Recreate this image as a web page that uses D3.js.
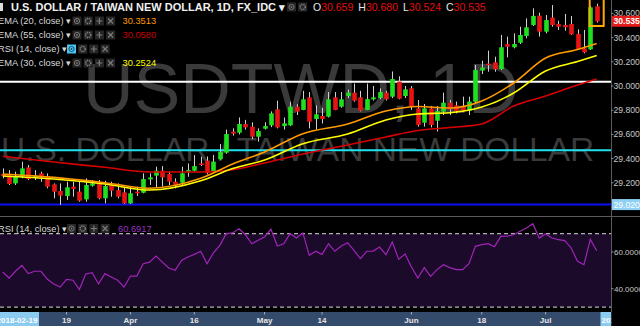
<!DOCTYPE html>
<html>
<head>
<meta charset="utf-8">
<script src="https://cdn.jsdelivr.net/npm/d3@7"></script>
<style>
  body { margin: 0; background: #000; overflow: hidden; }
  svg { display: block; font-family: "Liberation Sans", Arial, sans-serif; }
</style>
</head>
<body>
<div class="chart"></div>
<script>
//daily candles USDTWD, 2018-03-05 .. 2018-07-12
var opens = [29.273, 29.264, 29.195, 29.250, 29.327, 29.245, 29.278, 29.256, 29.187, 29.132,
    29.091, 29.168, 29.127, 29.063, 29.176, 29.201, 29.072, 29.182, 29.140, 29.121,
    29.030, 29.127, 29.118, 29.228, 29.259, 29.300, 29.273, 29.209, 29.201, 29.300,
    29.300, 29.360, 29.383, 29.290, 29.394, 29.449, 29.623, 29.614, 29.686, 29.664,
    29.581, 29.647, 29.675, 29.807, 29.669, 29.675, 29.829, 29.802, 29.906, 29.727,
    29.752, 29.747, 29.906, 29.829, 29.917, 29.945, 29.906, 29.802, 29.890, 29.901,
    29.945, 29.912, 30.036, 29.917, 29.981, 29.815, 29.697, 29.815, 29.713, 29.788,
    29.862, 29.840, 29.835, 29.796, 29.871, 30.127, 30.185, 30.196, 30.140, 30.347,
    30.320, 30.358, 30.413, 30.504, 30.581, 30.449, 30.565, 30.512, 30.504, 30.512,
    30.430, 30.311, 30.303, 30.659];
var highs = [29.319, 29.305, 29.292, 29.374, 29.347, 29.305, 29.292, 29.278, 29.195, 29.195,
    29.209, 29.209, 29.209, 29.237, 29.223, 29.223, 29.217, 29.209, 29.195, 29.168,
    29.168, 29.168, 29.278, 29.278, 29.333, 29.338, 29.292, 29.237, 29.333, 29.360,
    29.429, 29.416, 29.418, 29.430, 29.520, 29.640, 29.650, 29.740, 29.720, 29.700,
    29.650, 29.700, 29.790, 29.879, 29.740, 29.870, 29.850, 29.960, 29.950, 29.840,
    29.820, 29.950, 29.950, 29.950, 29.970, 30.020, 29.960, 30.020, 30.000, 29.980,
    29.960, 30.120, 30.080, 30.000, 30.000, 29.884, 29.851, 29.835, 29.835, 29.945,
    29.884, 29.871, 29.912, 29.912, 30.174, 30.209, 30.292, 30.242, 30.422, 30.408,
    30.435, 30.490, 30.559, 30.642, 30.606, 30.587, 30.669, 30.540, 30.595, 30.579,
    30.468, 30.463, 30.661, 30.680];
var lows = [29.237, 29.182, 29.182, 29.237, 29.223, 29.223, 29.209, 29.154, 29.072, 29.017,
    29.058, 29.085, 29.044, 29.044, 29.168, 29.063, 29.030, 29.085, 29.072, 29.025,
    29.025, 29.091, 29.113, 29.182, 29.160, 29.168, 29.182, 29.154, 29.182, 29.250,
    29.292, 29.338, 29.270, 29.280, 29.390, 29.440, 29.590, 29.600, 29.640, 29.560,
    29.540, 29.640, 29.660, 29.650, 29.640, 29.670, 29.760, 29.800, 29.650, 29.640,
    29.690, 29.740, 29.800, 29.820, 29.900, 29.870, 29.790, 29.800, 29.880, 29.890,
    29.880, 29.900, 29.890, 29.900, 29.802, 29.664, 29.664, 29.658, 29.623, 29.760,
    29.760, 29.774, 29.788, 29.760, 29.857, 30.099, 30.118, 30.118, 30.132, 30.237,
    30.311, 30.347, 30.394, 30.496, 30.408, 30.435, 30.490, 30.463, 30.457, 30.422,
    30.298, 30.270, 30.298, 30.524];
var closes = [29.256, 29.190, 29.250, 29.319, 29.231, 29.259, 29.250, 29.168, 29.127, 29.094,
    29.163, 29.149, 29.052, 29.182, 29.195, 29.072, 29.174, 29.135, 29.085, 29.030,
    29.113, 29.113, 29.231, 29.245, 29.300, 29.245, 29.209, 29.182, 29.278, 29.305,
    29.338, 29.347, 29.280, 29.375, 29.457, 29.603, 29.606, 29.686, 29.658, 29.581,
    29.628, 29.669, 29.774, 29.658, 29.691, 29.829, 29.788, 29.890, 29.705, 29.766,
    29.727, 29.890, 29.802, 29.890, 29.945, 29.879, 29.796, 29.892, 29.906, 29.950,
    29.890, 30.058, 29.895, 29.972, 29.829, 29.678, 29.815, 29.678, 29.793, 29.862,
    29.807, 29.793, 29.796, 29.871, 30.132, 30.152, 30.174, 30.138, 30.320, 30.325,
    30.347, 30.422, 30.485, 30.579, 30.449, 30.545, 30.504, 30.490, 30.485, 30.427,
    30.306, 30.278, 30.650, 30.535];

//RSI(14) per candle
var rsiVals = [49.1, 45.8, 49.5, 52.7, 48.2, 49.5, 49.5, 45.1, 42.6, 40.9,
    45.1, 44.6, 39.6, 48.0, 48.7, 42.6, 48.2, 46.4, 44.6, 40.9,
    46.9, 46.9, 53.6, 54.5, 57.8, 54.5, 51.3, 50.0, 55.4, 57.3,
    58.7, 60.4, 53.6, 59.6, 63.6, 70.0, 70.4, 72.7, 69.4, 64.5,
    66.4, 68.2, 72.4, 63.3, 64.5, 70.0, 67.6, 70.4, 58.2, 60.4,
    58.7, 64.5, 60.4, 63.3, 65.1, 60.9, 56.4, 60.4, 60.5, 62.7,
    58.5, 65.4, 56.0, 58.9, 51.8, 45.8, 51.5, 46.7, 50.4, 53.1,
    51.5, 50.4, 50.4, 53.6, 63.1, 64.0, 64.5, 62.9, 68.5, 68.7,
    69.4, 71.3, 73.1, 75.4, 67.6, 69.8, 67.6, 66.7, 66.2, 62.2,
    54.9, 53.1, 66.9, 60.6917];

//moving averages, read at some candles
var emaIdx = [0, 8, 16, 23, 31, 36, 41, 47, 54, 60, 65, 70, 75, 80, 85, 90, 93];
var ema20 = [29.273, 29.245, 29.201, 29.155, 29.237, 29.355, 29.455, 29.606, 29.686, 29.793, 29.831, 29.818, 29.876, 30.025, 30.231, 30.302, 30.3513];
var ema30 = [29.256, 29.231, 29.190, 29.140, 29.217, 29.318, 29.388, 29.523, 29.603, 29.719, 29.769, 29.779, 29.826, 29.942, 30.124, 30.202, 30.2524];
var ema55 = [29.419, 29.372, 29.328, 29.289, 29.289, 29.308, 29.364, 29.438, 29.512, 29.579, 29.632, 29.657, 29.686, 29.835, 29.917, 30.008, 30.0580];

var dateTickIdx = [10, 20, 30, 41, 50, 64, 75, 85];
var dateTickLabels = ["19", "Apr", "16", "May", "14", "Jun", "18", "Jul"];
var priceTicks = [29.0, 29.2, 29.4, 29.6, 29.8, 30.0, 30.2, 30.4, 30.6];
var rsiTicks = [40, 60];
var rsiBands = [30, 70];
var hLevels = [30.035, 29.47, 29.02];
var hColors = ["#ffffff", "#1fe3ee", "#0a10f5"];

var width = 640, height = 326;
var green = "#1ee01e", red = "#e81414";

var svg = d3.select(".chart").append("svg")
    .attr("width", width)
    .attr("height", height)
    .style("background-color", "#000");

var x = d3.scaleLinear().domain([0, 93]).range([2.7, 596.7]);
var y = d3.scaleLinear().domain([29.0, 30.6]).range([207, 13.4]);
var yR = d3.scaleLinear().domain([40, 60]).range([288.7, 252]);

svg.append("clipPath").attr("id", "mainClip")
    .append("rect").attr("x", 0).attr("y", 0).attr("width", 611).attr("height", 216);
svg.append("clipPath").attr("id", "rsiClip")
    .append("rect").attr("x", 0).attr("y", 217).attr("width", 611).attr("height", 95);
svg.append("clipPath").attr("id", "axisClip")
    .append("rect").attr("x", 612).attr("y", 0).attr("width", 28).attr("height", 216);

var main = svg.append("g").attr("clip-path", "url(#mainClip)");

//watermark
main.append("text")
    .attr("x", 83).attr("y", 113)
    .attr("font-size", 70)
    .style("fill", "#3a3a3a")
    .text("USDTWD, 1D");
main.append("text")
    .attr("x", 1).attr("y", 161)
    .attr("font-size", 33.5)
    .style("fill", "#3a3a3a")
    .text("U.S. DOLLAR / TAIWAN NEW DOLLAR");

//horizontal levels
main.selectAll(".level").data(hLevels).enter().append("line")
    .attr("x1", 0).attr("x2", 611)
    .attr("y1", d => y(d)).attr("y2", d => y(d))
    .attr("stroke", (d, k) => hColors[k])
    .attr("stroke-width", 2);

//candles
var idx = d3.range(opens.length);
main.selectAll(".wick").data(idx).enter().append("line")
    .attr("x1", i => Math.round(x(i)) + 0.5).attr("x2", i => Math.round(x(i)) + 0.5)
    .attr("y1", i => y(highs[i])).attr("y2", i => y(lows[i]))
    .attr("stroke", "#d0d0d0")
    .attr("stroke-width", 1);
main.selectAll(".body").data(idx).enter().append("rect")
    .attr("x", i => Math.round(x(i)) - 1.8)
    .attr("width", 4.6)
    .attr("y", i => y(Math.max(opens[i], closes[i])))
    .attr("height", i => Math.max(1.5, Math.abs(y(opens[i]) - y(closes[i]))))
    .attr("fill", i => closes[i] >= opens[i] ? green : red);

//ema lines
var emaLine = d3.line()
    .x((d, k) => x(emaIdx[k]))
    .y(d => y(d))
    .curve(d3.curveMonotoneX);
[[ema55, "#d80000"], [ema30, "#ffff00"], [ema20, "#ff9a00"]].forEach(function(e) {
    main.append("path")
        .datum(e[0])
        .attr("fill", "none")
        .attr("stroke", e[1])
        .attr("stroke-width", 1.6)
        .attr("d", emaLine);
});

//box round the last candle
main.append("rect")
    .attr("x", x(93) - 7).attr("y", -2)
    .attr("width", 14).attr("height", 28)
    .attr("fill", "none")
    .attr("stroke", "#ffa800")
    .attr("stroke-width", 2);

//RSI pane
var rsiG = svg.append("g").attr("clip-path", "url(#rsiClip)");
rsiG.append("rect")
    .attr("x", 0).attr("width", 611)
    .attr("y", yR(rsiBands[1])).attr("height", yR(rsiBands[0]) - yR(rsiBands[1]))
    .attr("fill", "#1c0a2b");
rsiG.selectAll(".band").data(rsiBands).enter().append("line")
    .attr("x1", 0).attr("x2", 611)
    .attr("y1", d => yR(d)).attr("y2", d => yR(d))
    .attr("stroke", "#b0b0b0")
    .attr("stroke-dasharray", "4,3")
    .attr("stroke-width", 1.2);
rsiG.append("path")
    .datum(rsiVals)
    .attr("fill", "none")
    .attr("stroke", "#a024b8")
    .attr("stroke-width", 1.2)
    .attr("d", d3.line().x((d, i) => x(i)).y(d => yR(d)));

//pane borders
svg.append("line").attr("x1", 0).attr("x2", 640).attr("y1", 216.5).attr("y2", 216.5)
    .attr("stroke", "#5a5a5a");
svg.append("line").attr("x1", 611.5).attr("x2", 611.5).attr("y1", 0).attr("y2", 312)
    .attr("stroke", "#5a5a5a");

//price axis
var axisG = svg.append("g").attr("font-size", 8.6).style("fill", "#c8c8c8");
axisG.append("g").attr("clip-path", "url(#axisClip)")
    .selectAll(".pt").data(priceTicks).enter().append("text")
    .attr("x", 613.5).attr("y", d => y(d) + 3)
    .text(d => d3.format(".3f")(d));
axisG.selectAll(".ptk").data(priceTicks).enter().append("line")
    .attr("x1", 611).attr("x2", 613.5).attr("y1", d => y(d)).attr("y2", d => y(d))
    .attr("stroke", "#8a8a8a");
axisG.selectAll(".rt").data(rsiTicks).enter().append("text")
    .attr("x", 614).attr("y", d => yR(d) + 3)
    .attr("font-size", 8)
    .text(d => d3.format(".4f")(d));
axisG.selectAll(".rtk").data(rsiTicks).enter().append("line")
    .attr("x1", 611).attr("x2", 613.5).attr("y1", d => yR(d)).attr("y2", d => yR(d))
    .attr("stroke", "#8a8a8a");

//current price and blue level labels
var lastClose = closes[closes.length - 1];
svg.append("rect").attr("x", 612).attr("y", y(lastClose) - 5.5).attr("width", 28).attr("height", 11)
    .attr("fill", "#e51c1c");
svg.append("text").attr("x", 613.5).attr("y", y(lastClose) + 3.2)
    .attr("font-size", 8.6).attr("font-weight", "bold").style("fill", "#fff")
    .text(d3.format(".3f")(lastClose));
svg.append("rect").attr("x", 612).attr("y", y(hLevels[2]) - 5.5).attr("width", 28).attr("height", 11)
    .attr("fill", "#8fd0f5");
svg.append("text").attr("x", 613.5).attr("y", y(hLevels[2]) + 3.2)
    .attr("font-size", 8.6).style("fill", "#fff")
    .text(d3.format(".3f")(hLevels[2]));

//date axis
svg.append("rect").attr("x", 0).attr("y", 312).attr("width", 611).attr("height", 14)
    .attr("fill", "#354b6b");
svg.append("rect").attr("x", 0).attr("y", 312).attr("width", 39).attr("height", 14)
    .attr("fill", "#8ccbf0");
svg.append("rect").attr("x", 600.5).attr("y", 312).attr("width", 11).attr("height", 14)
    .attr("fill", "#8ccbf0");
svg.append("text").attr("x", 37.5).attr("y", 322.5).attr("text-anchor", "end")
    .attr("font-size", 8).attr("font-weight", "bold").style("fill", "#fff")
    .text("2018-02-19");
svg.append("text").attr("x", 601.5).attr("y", 322.5)
    .attr("font-size", 8).attr("font-weight", "bold").style("fill", "#fff")
    .text("2018-07-12");
svg.append("rect").attr("x", 611.5).attr("y", 312).attr("width", 29).attr("height", 14)
    .attr("fill", "#000");
svg.selectAll(".dt").data(dateTickIdx).enter().append("text")
    .attr("x", i => x(i)).attr("y", 322.5)
    .attr("text-anchor", "middle")
    .attr("font-size", 8).attr("font-weight", "bold")
    .style("fill", "#e6e6e6")
    .text((d, k) => dateTickLabels[k]);
svg.selectAll(".dtk").data(dateTickIdx).enter().append("line")
    .attr("x1", i => x(i)).attr("x2", i => x(i)).attr("y1", 312).attr("y2", 314.5)
    .attr("stroke", "#9fb0c4");

//small legend buttons
function drawButtons(x0, y0, n, hi) {
    for (var k = 0; k < n; k++) {
        var bx = x0 + k * 11.2;
        var on = hi && k == 0;
        var ic = on ? "#15506e" : "#7a7a7a";
        svg.append("rect").attr("x", bx).attr("y", y0).attr("width", 9).attr("height", 9)
            .attr("fill", on ? "#4cc4f2" : "#262626");
        var cx = bx + 4.5, cy = y0 + 4.5;
        if (k == 0) {
            svg.append("circle").attr("cx", cx).attr("cy", cy).attr("r", 2.6)
                .attr("fill", "none").attr("stroke", ic).attr("stroke-width", 1);
            svg.append("circle").attr("cx", cx).attr("cy", cy).attr("r", 0.9).attr("fill", ic);
        } else if (k == 1) {
            svg.append("circle").attr("cx", cx).attr("cy", cy).attr("r", 2.6)
                .attr("fill", "none").attr("stroke", ic).attr("stroke-width", 1.6)
                .attr("stroke-dasharray", "1.3,0.8");
        } else if (k == 2) {
            svg.append("path").attr("d", "M" + (cx - 3) + "," + cy + "h6M" + cx + "," + (cy - 3) + "v6")
                .attr("stroke", ic).attr("stroke-width", 1.2);
        } else {
            svg.append("path").attr("d", "M" + (cx - 2.5) + "," + (cy - 2.5) + "l5,5M" + (cx + 2.5) + "," + (cy - 2.5) + "l-5,5")
                .attr("stroke", ic).attr("stroke-width", 1.2);
        }
    }
}

//header
svg.append("rect").attr("x", 0).attr("y", 3).attr("width", 3).attr("height", 8).attr("fill", "#dcdcdc");
svg.append("text")
    .attr("x", 11).attr("y", 10.8)
    .attr("font-size", 11)
    .attr("font-weight", "bold")
    .style("fill", "#f0f0f0")
    .text("U.S. DOLLAR / TAIWAN NEW DOLLAR, 1D, FX_IDC \u25BE");
drawButtons(287, 2.5, 2, false);

var ohlc = svg.append("text").attr("x", 313).attr("y", 10.8).attr("font-size", 10.5);
[["O", opens], ["H", highs], ["L", lows], ["C", closes]].forEach(function(p, k) {
    ohlc.append("tspan").attr("dx", k == 0 ? 0 : 5).style("fill", "#e8e8e8").text(p[0]);
    ohlc.append("tspan").style("fill", "#e01010").text(d3.format(".3f")(p[1][p[1].length - 1]));
});

//indicator legends
var legendNames = ["EMA (20, close)", "EMA (55, close)", "RSI (14, close)", "EMA (30, close)"];
var legendValues = [ema20[ema20.length - 1], ema55[ema55.length - 1], null, ema30[ema30.length - 1]];
var legendColors = ["#ff9800", "#c80000", null, "#ffff00"];
var legendY = [24, 38, 52, 66];
legendNames.forEach(function(name, k) {
    var isRsi = name.indexOf("RSI") == 0;
    svg.append("text")
        .attr("x", -2).attr("y", legendY[k])
        .attr("font-size", 9.3)
        .style("fill", "#d8d8d8")
        .text(name + " \u25BE");
    drawButtons(isRsi ? 67 : 72.5, legendY[k] - 7.5, 4, isRsi);
    if (legendValues[k] != null) {
        svg.append("text")
            .attr("x", 122.5).attr("y", legendY[k])
            .attr("font-size", 9.3)
            .style("fill", legendColors[k])
            .text(d3.format(".4f")(legendValues[k]));
    }
});

//RSI legend
svg.append("text")
    .attr("x", -2).attr("y", 231.5)
    .attr("font-size", 9.3)
    .style("fill", "#d8d8d8")
    .text("RSI (14, close) \u25BE");
drawButtons(67, 224, 4, false);
svg.append("text")
    .attr("x", 118).attr("y", 231.5)
    .attr("font-size", 9.3)
    .style("fill", "#9a30c0")
    .text(d3.format(".4f")(rsiVals[rsiVals.length - 1]));
</script>
</body>
</html>
